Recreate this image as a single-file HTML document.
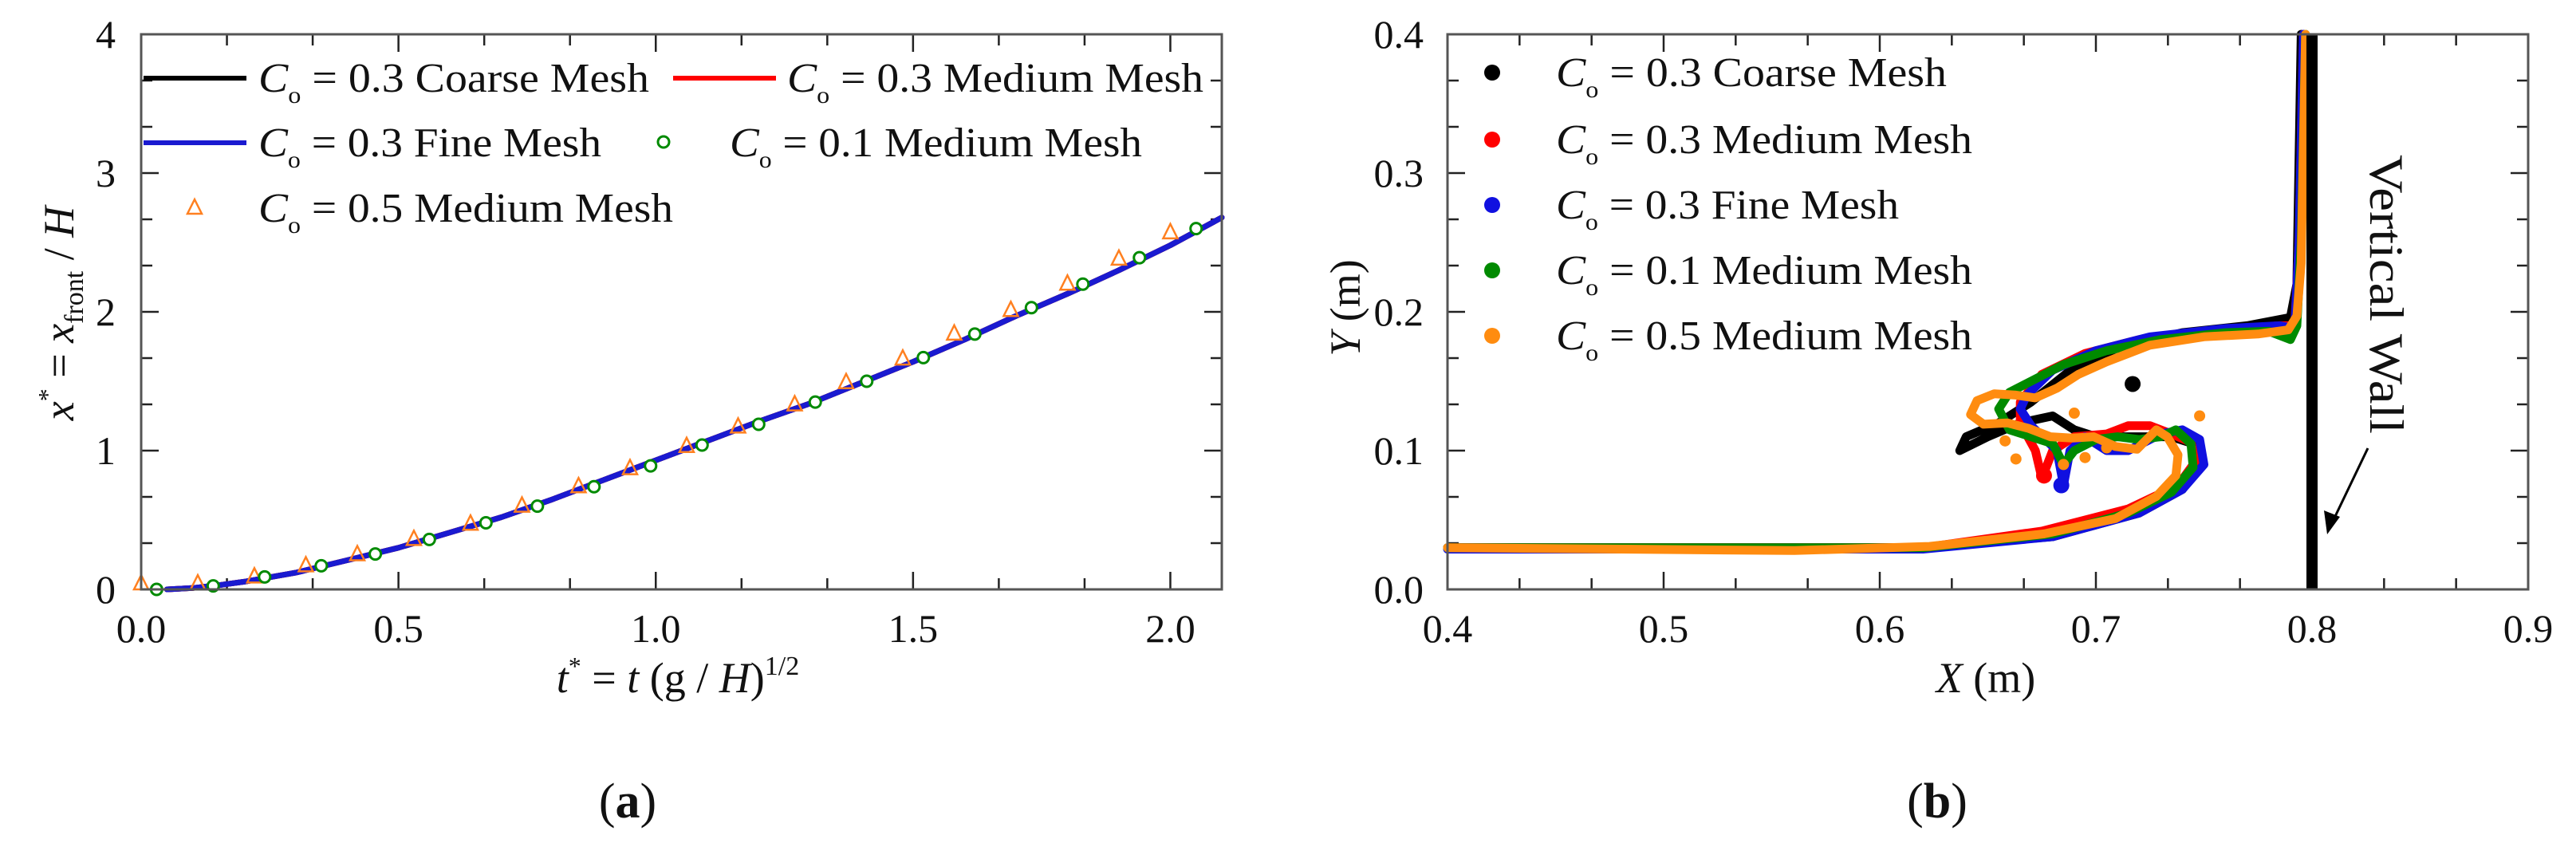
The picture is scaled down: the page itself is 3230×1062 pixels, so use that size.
<!DOCTYPE html>
<html><head><meta charset="utf-8"><style>
html,body{margin:0;padding:0;background:#fff;}
svg{display:block;font-family:"Liberation Serif",serif;}
</style></head><body>
<svg id="fig" width="3230" height="1062" viewBox="0 0 3230 1062" xmlns="http://www.w3.org/2000/svg"></svg>
<script>
// ---- Panel (a) data ----
const curveT = [0.05,0.1,0.15,0.2,0.3,0.4,0.5,0.6,0.7,0.8,0.9,1.0,1.1,1.2,1.3,1.4,1.5,1.6,1.7,1.8,1.9,2.0,2.1];
const curveX = [0,0.01,0.03,0.055,0.12,0.21,0.3,0.41,0.52,0.65,0.79,0.93,1.07,1.21,1.34,1.49,1.64,1.8,1.97,2.13,2.3,2.48,2.68];
const circT = [0.03,0.14,0.24,0.35,0.455,0.56,0.67,0.77,0.88,0.99,1.09,1.2,1.31,1.41,1.52,1.62,1.73,1.83,1.94,2.05];
const circX = [0,0.025,0.09,0.17,0.255,0.36,0.48,0.6,0.74,0.89,1.04,1.19,1.35,1.5,1.67,1.84,2.03,2.2,2.39,2.6];
const triT = [0,0.11,0.22,0.32,0.42,0.53,0.64,0.74,0.85,0.95,1.06,1.16,1.27,1.37,1.48,1.58,1.69,1.8,1.9,2.0];
const triX = [0.04,0.04,0.09,0.17,0.25,0.36,0.47,0.6,0.74,0.87,1.03,1.17,1.33,1.49,1.66,1.84,2.01,2.2,2.38,2.57];
const aXTicks = ["0.0","0.5","1.0","1.5","2.0"];
const aYTicks = ["0","1","2","3","4"];
// ---- Panel (b) data ----
const blackX=[0.4,0.62,0.68,0.72,0.74,0.748,0.745,0.735,0.72,0.7,0.69,0.68,0.665,0.65,0.637,0.64,0.655,0.67,0.69,0.71,0.74,0.77,0.79,0.793,0.795];
const blackY=[0.03,0.03,0.038,0.055,0.072,0.09,0.105,0.11,0.11,0.11,0.115,0.125,0.12,0.11,0.1,0.11,0.12,0.135,0.16,0.174,0.185,0.19,0.196,0.22,0.4];
const redX=[0.4,0.62,0.675,0.715,0.738,0.746,0.744,0.735,0.725,0.715,0.705,0.69,0.68,0.675,0.672,0.665,0.665,0.675,0.695,0.72,0.76,0.785,0.792,0.794,0.796];
const redY=[0.03,0.03,0.042,0.058,0.075,0.092,0.106,0.112,0.118,0.118,0.112,0.11,0.1,0.08,0.1,0.12,0.135,0.155,0.17,0.18,0.187,0.19,0.19,0.25,0.4];
const blueX=[0.4,0.62,0.68,0.72,0.74,0.75,0.748,0.74,0.73,0.715,0.705,0.695,0.688,0.685,0.682,0.67,0.665,0.668,0.68,0.7,0.725,0.76,0.785,0.792,0.794,0.796];
const blueY=[0.029,0.029,0.038,0.055,0.072,0.09,0.108,0.115,0.112,0.1,0.1,0.11,0.1,0.075,0.1,0.118,0.13,0.14,0.158,0.172,0.182,0.188,0.19,0.188,0.25,0.4];
const greenX=[0.4,0.62,0.68,0.715,0.735,0.745,0.744,0.737,0.73,0.72,0.71,0.7,0.69,0.685,0.68,0.67,0.66,0.655,0.66,0.67,0.685,0.705,0.73,0.76,0.78,0.79,0.793,0.795,0.797];
const greenY=[0.03,0.03,0.04,0.055,0.07,0.088,0.105,0.115,0.11,0.108,0.11,0.108,0.1,0.09,0.105,0.11,0.115,0.13,0.142,0.15,0.162,0.172,0.18,0.185,0.186,0.18,0.19,0.25,0.4];
const orangeX=[0.4,0.5605,0.623,0.676,0.709,0.728,0.737,0.738,0.733,0.728,0.719,0.709,0.699,0.689,0.679,0.669,0.659,0.648,0.642,0.645,0.653,0.663,0.672,0.682,0.692,0.705,0.725,0.75,0.775,0.789,0.793,0.794,0.795,0.797];
const orangeY=[0.03,0.028,0.031,0.04,0.051,0.067,0.082,0.097,0.11,0.115,0.101,0.103,0.11,0.109,0.11,0.116,0.12,0.119,0.126,0.136,0.141,0.14,0.138,0.145,0.155,0.164,0.176,0.182,0.184,0.187,0.197,0.216,0.235,0.4];
const dropX=[0.658,0.663,0.69,0.695,0.748,0.685,0.705,0.717,0.676,0.684];
const dropY=[0.107,0.094,0.127,0.095,0.125,0.09,0.102,0.148,0.082,0.075];
const dropC=["o","o","o","o","o","o","o","k","r","b"];
const bXTicks=["0.4","0.5","0.6","0.7","0.8","0.9"];
const bYTicks=["0.0","0.1","0.2","0.3","0.4"];

const NS="http://www.w3.org/2000/svg";
const svg=document.getElementById('fig');
function mk(tag,attrs,parent){const e=document.createElementNS(NS,tag);for(const k in attrs)e.setAttribute(k,attrs[k]);(parent||svg).appendChild(e);return e;}
const COL={k:"#000",r:"#ff0000",b:"#1010e0",g:"#008a00",o:"#ff8c10"};

// ===== Panel A =====
const A={l:177,r:1532,t:43,b:739,x0:0,x1:2.1,y0:0,y1:4};
const ax=v=>A.l+(v-A.x0)/(A.x1-A.x0)*(A.r-A.l);
const ay=v=>A.b-(v-A.y0)/(A.y1-A.y0)*(A.b-A.t);
const gA=mk('g',{});


for(let i=0;i*0.5/3<=2.1+1e-9;i++){const v=i*0.5/3;const x=ax(v);const len=i%3==0?22:14;
 mk('line',{x1:x,y1:A.b,x2:x,y2:A.b-len,stroke:"#222","stroke-width":2.5},gA);
 mk('line',{x1:x,y1:A.t,x2:x,y2:A.t+len,stroke:"#222","stroke-width":2.5},gA);}
for(let i=0;i<=12;i++){const v=i/3;const y=ay(v);const len=i%3==0?22:14;
 mk('line',{x1:A.l,y1:y,x2:A.l+len,y2:y,stroke:"#222","stroke-width":2.5},gA);
 mk('line',{x1:A.r,y1:y,x2:A.r-len,y2:y,stroke:"#222","stroke-width":2.5},gA);}
aXTicks.forEach((s)=>{const t=mk('text',{x:ax(parseFloat(s)),y:805,"font-size":50,"text-anchor":"middle",fill:"#111"},gA);t.textContent=s;
 });
aYTicks.forEach((s)=>{const t=mk('text',{x:145,y:ay(parseFloat(s))+17,"font-size":50,"text-anchor":"end",fill:"#111"},gA);t.textContent=s;
 });
function poly(xs,ys,fx,fy,col,w,g,name){const d=xs.map((x,i)=>(i?'L':'M')+fx(x).toFixed(1)+' '+fy(ys[i]).toFixed(1)).join(' ');
 const p=mk('path',{d:d,fill:"none",stroke:col,"stroke-width":w,"stroke-linejoin":"round","stroke-linecap":"round"},g);
 return p;}
poly(curveT,curveX,ax,ay,"#000",7,gA,'coarse-mesh-line');
poly(curveT,curveX,ax,ay,"#ff0000",7,gA,'medium-mesh-line');
poly(curveT,curveX,ax,ay,"#1a1ad0",7,gA,'fine-mesh-line');
triT.forEach((t,i)=>{const x=ax(t),y=ay(triX[i]);const p=mk('polygon',{points:`${x},${y-11} ${x-9},${y+7} ${x+9},${y+7}`,fill:"none",stroke:"#ff8020","stroke-width":2.5},gA);
 });
circT.forEach((t,i)=>{const c=mk('circle',{cx:ax(t),cy:ay(circX[i]),r:7,fill:"#fff",stroke:"#008a00","stroke-width":3},gA);
 });
const fa=mk('rect',{x:A.l,y:A.t,width:A.r-A.l,height:A.b-A.t,fill:"none",stroke:"#555","stroke-width":3},gA);

function legText(x,y,val,rest,len,g){const t=mk('text',{x:x,y:y,"font-size":52,fill:"#111",textLength:len,lengthAdjust:"spacingAndGlyphs"},g);
 t.innerHTML=`<tspan font-style="italic">C</tspan><tspan font-size="30" dy="14">o</tspan><tspan dy="-14"> = ${val} ${rest}</tspan>`;
 return t;}
function legLine(x1,x2,y,col,g){const l=mk('line',{x1:x1,y1:y,x2:x2,y2:y,stroke:col,"stroke-width":6},g);
 }
legLine(180,309,98,"#000",gA);legText(324,115,"0.3","Coarse Mesh",490,gA);
legLine(844,973,98,"#ff0000",gA);legText(987,115,"0.3","Medium Mesh",522,gA);
legLine(180,309,179,"#1a1ad0",gA);legText(324,196,"0.3","Fine Mesh",430,gA);
const lc=mk('circle',{cx:832,cy:178,r:7,fill:"#fff",stroke:"#008a00","stroke-width":3},gA);
legText(915,196,"0.1","Medium Mesh",517,gA);
const lt=mk('polygon',{points:"244,250 235,268 253,268",fill:"none",stroke:"#ff8020","stroke-width":2.5},gA);
legText(324,278,"0.5","Medium Mesh",520,gA);
const ya=mk('text',{x:0,y:0,"font-size":54,"text-anchor":"middle",fill:"#111",transform:"translate(92,393) rotate(-90)"},gA);
ya.innerHTML=`<tspan font-style="italic">x</tspan><tspan font-size="32" dy="-22">*</tspan><tspan dy="22"> = </tspan><tspan font-style="italic">x</tspan><tspan font-size="34" dy="12">front</tspan><tspan dy="-12"> / </tspan><tspan font-style="italic">H</tspan>`;

const xa=mk('text',{x:850,y:868,"font-size":54,"text-anchor":"middle",fill:"#111"},gA);
xa.innerHTML=`<tspan font-style="italic">t</tspan><tspan font-size="32" dy="-22">*</tspan><tspan dy="22"> = </tspan><tspan font-style="italic">t</tspan><tspan> (g / </tspan><tspan font-style="italic">H</tspan><tspan>)</tspan><tspan font-size="34" dy="-22">1/2</tspan>`;

const la=mk('text',{x:787,y:1025,"font-size":62,"text-anchor":"middle",fill:"#111"},gA);
la.innerHTML=`(<tspan font-weight="bold">a</tspan>)`;

// ===== Panel B =====
const B={l:1815,r:3170,t:43,b:739,x0:0.4,x1:0.9,y0:0,y1:0.4};
const bx=v=>B.l+(v-B.x0)/(B.x1-B.x0)*(B.r-B.l);
const by=v=>B.b-(v-B.y0)/(B.y1-B.y0)*(B.b-B.t);
const gB=mk('g',{});


for(let i=0;i<=15;i++){const x=bx(0.4+i*0.1/3);const len=i%3==0?22:14;
 mk('line',{x1:x,y1:B.b,x2:x,y2:B.b-len,stroke:"#222","stroke-width":2.5},gB);
 mk('line',{x1:x,y1:B.t,x2:x,y2:B.t+len,stroke:"#222","stroke-width":2.5},gB);}
for(let i=0;i<=12;i++){const y=by(i*0.1/3);const len=i%3==0?22:14;
 mk('line',{x1:B.l,y1:y,x2:B.l+len,y2:y,stroke:"#222","stroke-width":2.5},gB);
 mk('line',{x1:B.r,y1:y,x2:B.r-len,y2:y,stroke:"#222","stroke-width":2.5},gB);}
bXTicks.forEach((s)=>{const t=mk('text',{x:bx(parseFloat(s)),y:805,"font-size":50,"text-anchor":"middle",fill:"#111"},gB);t.textContent=s;
 });
bYTicks.forEach((s)=>{const t=mk('text',{x:1785,y:by(parseFloat(s))+17,"font-size":50,"text-anchor":"end",fill:"#111"},gB);t.textContent=s;
 });
poly(blackX,blackY,bx,by,COL.k,11,gB,'coarse-mesh-surface');
poly(redX,redY,bx,by,COL.r,11,gB,'medium-mesh-surface');
poly(blueX,blueY,bx,by,COL.b,11,gB,'fine-mesh-surface');
poly(greenX,greenY,bx,by,COL.g,11,gB,'co01-surface');
poly(orangeX,orangeY,bx,by,COL.o,11,gB,'co05-surface');
dropX.forEach((x,i)=>{const c=mk('circle',{cx:bx(x),cy:by(dropY[i]),r:dropC[i]=="o"?7:10,fill:COL[dropC[i]]},gB);
 });
const wall=mk('line',{x1:bx(0.8),y1:B.t,x2:bx(0.8),y2:B.b,stroke:"#000","stroke-width":14},gB);

const fb=mk('rect',{x:B.l,y:B.t,width:B.r-B.l,height:B.b-B.t,fill:"none",stroke:"#555","stroke-width":3},gB);

const legB=[["k","0.3","Coarse Mesh",490],["r","0.3","Medium Mesh",522],["b","0.3","Fine Mesh",430],["g","0.1","Medium Mesh",522],["o","0.5","Medium Mesh",522]];
const legBY=[91,175,257,339,421];
legB.forEach((L,i)=>{const c=mk('circle',{cx:1871,cy:legBY[i],r:10,fill:COL[L[0]]},gB);
 legText(1951,legBY[i]+17,L[1],L[2],L[3],gB);});
const vw=mk('text',{x:0,y:0,"font-size":60,"text-anchor":"middle",fill:"#111",transform:"translate(2972,369) rotate(90)",textLength:350,lengthAdjust:"spacingAndGlyphs"},gB);
vw.textContent="Vertical Wall";
const ar=mk('line',{x1:2969,y1:562,x2:2922,y2:660,stroke:"#000","stroke-width":3},gB);
const ah=mk('polygon',{points:"2918,670 2914,640 2934,648",fill:"#000"},gB);
const yb=mk('text',{x:0,y:0,"font-size":54,"text-anchor":"middle",fill:"#111",transform:"translate(1705,386) rotate(-90)"},gB);
yb.innerHTML=`<tspan font-style="italic">Y</tspan> (m)`;
const xb=mk('text',{x:2490,y:868,"font-size":54,"text-anchor":"middle",fill:"#111"},gB);
xb.innerHTML=`<tspan font-style="italic">X</tspan> (m)`;
const lb=mk('text',{x:2429,y:1025,"font-size":62,"text-anchor":"middle",fill:"#111"},gB);
lb.innerHTML=`(<tspan font-weight="bold">b</tspan>)`;
</script>
</body></html>
